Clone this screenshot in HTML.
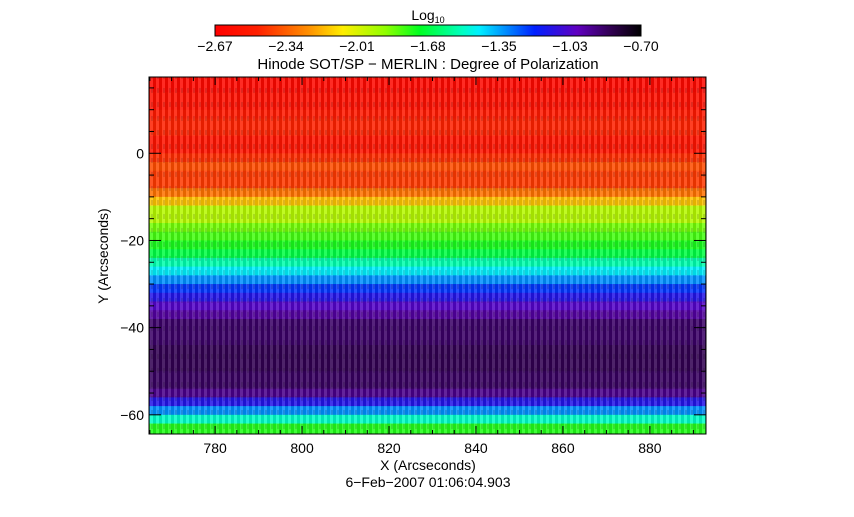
<!DOCTYPE html>
<html><head><meta charset="utf-8"><style>
body{margin:0;background:#fff;width:854px;height:512px;overflow:hidden}
svg text{font-family:"Liberation Sans",sans-serif;fill:#000}
</style></head><body>
<svg id="c" width="854" height="512">
<defs>
<linearGradient id="cb" x1="0" x2="1" y1="0" y2="0">
<stop offset="0" stop-color="#ff0000"/><stop offset="0.1" stop-color="#ff2000"/>
<stop offset="0.22" stop-color="#ff9000"/><stop offset="0.3" stop-color="#ffee00"/>
<stop offset="0.4" stop-color="#90ff00"/><stop offset="0.48" stop-color="#00ff20"/>
<stop offset="0.58" stop-color="#00ffc0"/><stop offset="0.62" stop-color="#00f0ff"/>
<stop offset="0.75" stop-color="#0020ff"/><stop offset="0.85" stop-color="#6000c0"/>
<stop offset="0.93" stop-color="#300050"/><stop offset="1" stop-color="#000000"/>
</linearGradient>
<pattern id="stripes" width="6" height="14" patternUnits="userSpaceOnUse">
<rect width="3" height="14" fill="#fff" opacity="0.14"/>
<rect x="3" width="3" height="14" fill="#000" opacity="0.1"/>
<rect x="1" y="4" width="2" height="5" fill="#000" opacity="0.12"/>
</pattern>
</defs>
<text x="428" y="20" font-size="14" text-anchor="middle">Log<tspan font-size="9" dy="3">10</tspan></text>
<rect x="215" y="25" width="426" height="11" fill="url(#cb)" stroke="#000" stroke-width="1"/>
<g id="cbt"></g>
<text x="428" y="69" font-size="15" text-anchor="middle">Hinode SOT/SP − MERLIN : Degree of Polarization</text>
<g id="heat"></g>
<rect x="149" y="77" width="557" height="357" fill="url(#stripes)"/>
<rect x="149" y="77" width="557" height="357" fill="none" stroke="#000" stroke-width="1"/>
<g id="ax"></g>
<text x="428" y="470" font-size="14" text-anchor="middle">X (Arcseconds)</text>
<text x="108" y="256" font-size="14" text-anchor="middle" transform="rotate(-90 108 256)">Y (Arcseconds)</text>
<text x="428" y="487" font-size="14" text-anchor="middle">6−Feb−2007 01:06:04.903</text>
</svg>
<script>
const cbLabels=["-2.67","-2.34","-2.01","-1.68","-1.35","-1.03","-0.70"];
const xTicks=[780,800,820,840,860,880];
const yTicks=[0,-20,-40,-60];
const yBinTop=[17.5,14,10,8,4,0,-2,-4,-8,-10,-12,-16,-18,-20,-22,-24,-26,-28,-30,-32,-34,-36,-38,-44,-50,-54,-56,-58,-60,-62];
const yBinVal=[-2.62,-2.58,-2.52,-2.47,-2.55,-2.45,-2.38,-2.42,-2.3,-2.15,-1.95,-1.85,-1.8,-1.75,-1.68,-1.55,-1.45,-1.33,-1.22,-1.12,-1.02,-0.95,-0.87,-0.84,-0.86,-0.92,-1.12,-1.33,-1.52,-1.76];
const NS="http://www.w3.org/2000/svg";
const X0=149,X1=706,Y0=77,Y1=434,xmin=764.8,xmax=892.9,ymin=-64.4,ymax=17.5,vmin=-2.67,vmax=-0.70;
const sx=v=>X0+(v-xmin)/(xmax-xmin)*(X1-X0);
const sy=v=>Y1-(v-ymin)/(ymax-ymin)*(Y1-Y0);
const stops=[[0,255,0,0],[0.1,255,32,0],[0.22,255,144,0],[0.3,255,238,0],[0.4,144,255,0],[0.48,0,255,32],[0.58,0,255,192],[0.62,0,240,255],[0.75,0,32,255],[0.85,96,0,192],[0.93,48,0,80],[1,0,0,0]];
function cmap(v){let f=Math.max(0,Math.min(1,(v-vmin)/(vmax-vmin)));for(let i=1;i<stops.length;i++){if(f<=stops[i][0]){const a=stops[i-1],b=stops[i],t=(f-a[0])/(b[0]-a[0]);return `rgb(${[1,2,3].map(k=>Math.round(a[k]+(b[k]-a[k])*t)).join(',')})`;}}return 'rgb(0,0,0)';}
function el(t,a,p){const e=document.createElementNS(NS,t);for(const k in a)e.setAttribute(k,a[k]);p.appendChild(e);return e;}
const heat=document.getElementById('heat');
yBinTop.forEach((t,i)=>{const b=i+1<yBinTop.length?yBinTop[i+1]:ymin;
const r=el('rect',{x:X0,y:sy(t),width:X1-X0,height:sy(b)-sy(t)+0.5,fill:cmap(yBinVal[i])},heat);

});
const cbt=document.getElementById('cbt');
cbLabels.forEach((l,i)=>{const x=215+i*426/(cbLabels.length-1);
const t=el('text',{x:x,y:51,'font-size':14,'text-anchor':'middle'},cbt);t.textContent=l.replace('-','−');

});
const ax=document.getElementById('ax');
for(let v=765;v<=892;v+=5){const x=sx(v),L=v%20===0?8:4;
el('line',{x1:x,x2:x,y1:Y1,y2:Y1-L,stroke:'#000'},ax);el('line',{x1:x,x2:x,y1:Y0,y2:Y0+L,stroke:'#000'},ax);}
for(let v=15;v>=-64;v-=5){const y=sy(v),L=v%20===0?12:5;
el('line',{x1:X0,x2:X0+L,y1:y,y2:y,stroke:'#000'},ax);el('line',{x1:X1,x2:X1-L,y1:y,y2:y,stroke:'#000'},ax);}
xTicks.forEach(v=>{const t=el('text',{x:sx(v),y:Y1+19,'font-size':14,'text-anchor':'middle'},ax);t.textContent=v;

});
yTicks.forEach(v=>{const t=el('text',{x:X0-5,y:sy(v)+5,'font-size':14,'text-anchor':'end'},ax);t.textContent=String(v).replace('-','−');

});
</script>
</body></html>
